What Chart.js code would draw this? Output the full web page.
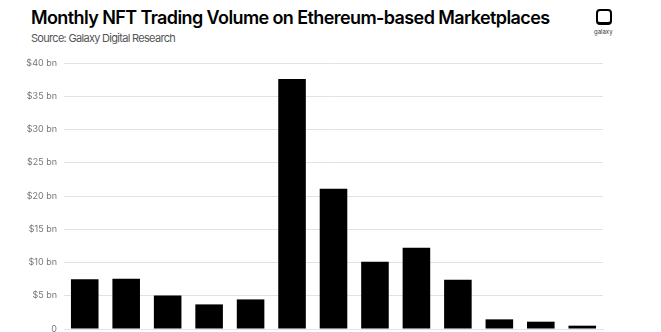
<!DOCTYPE html>
<html>
<head>
<meta charset="utf-8">
<script src="https://cdn.jsdelivr.net/npm/chart.js@4"></script>
<style>
  html, body { margin: 0; padding: 0; background: #fff; overflow: hidden; }
  body { width: 661px; height: 332px; position: relative; font-family: Inter, sans-serif; }
  #title { position: absolute; left: 31px; top: 7px; font-size: 18px; font-weight: 600; color: #000; letter-spacing: -0.6px; white-space: nowrap; }
  #sub { position: absolute; left: 31px; top: 31px; font-size: 11px; color: #555; letter-spacing: -0.7px; white-space: nowrap; }
  #logo { position: absolute; left: 596px; top: 9px; width: 12px; height: 11px; border: 2px solid #000; border-radius: 4px; border-bottom-width: 3px; }
  #logotxt { position: absolute; left: 594px; top: 28px; font-size: 6px; color: #333; }
  #wrap { position: absolute; left: 0; top: 0; width: 661px; height: 380px; }
</style>
</head>
<body>
<div id="title">Monthly NFT Trading Volume on Ethereum-based Marketplaces</div>
<div id="sub">Source: Galaxy Digital Research</div>
<div id="logo"></div>
<div id="logotxt">galaxy</div>
<div id="wrap"><canvas id="chart"></canvas></div>
<script>
// monthly volume, $ billions
const months = ['Aug 2021', 'Sep 2021', 'Oct 2021', 'Nov 2021', 'Dec 2021', 'Jan 2022', 'Feb 2022',
                'Mar 2022', 'Apr 2022', 'May 2022', 'Jun 2022', 'Jul 2022', 'Aug 2022'];
const volume = [7.5, 7.55, 5.05, 3.7, 4.45, 37.6, 21.1, 10.1, 12.2, 7.4, 1.45, 1.1, 0.5];
const yTicks = [0, 5, 10, 15, 20, 25, 30, 35, 40];

const tickFont = {family: 'Inter', size: 9};

new Chart(document.getElementById('chart'), {
    type: 'bar',
    data: {
        labels: months,
        datasets: [{
            data: volume,
            backgroundColor: '#000',
            borderWidth: 0,
            categoryPercentage: 1,
            barPercentage: 0.665,
        }]
    },
    options: {
        responsive: true,
        maintainAspectRatio: false,
        animation: false,
        layout: {padding: {top: 63, right: 58, left: 0, bottom: 0}},
        plugins: {legend: {display: false}, tooltip: {enabled: false}},
        scales: {
            x: {
                grid: {display: false, drawTicks: false},
                border: {color: '#e4e4e4'},
                ticks: {color: '#bbb', font: {family: 'Inter', size: 8}},
                afterFit: s => { s.height = 51; }
            },
            y: {
                min: 0, max: 40,
                afterBuildTicks: s => { s.ticks = yTicks.map(v => ({value: v})); },
                grid: {color: '#e2e2e2', drawTicks: false},
                border: {display: false},
                ticks: {
                    color: '#777', font: tickFont, padding: 7,
                    callback: v => v === 0 ? '0' : '$' + v + ' bn'
                },
                afterFit: s => { s.width = 64; }
            }
        }
    }
});
</script>
</body>
</html>
